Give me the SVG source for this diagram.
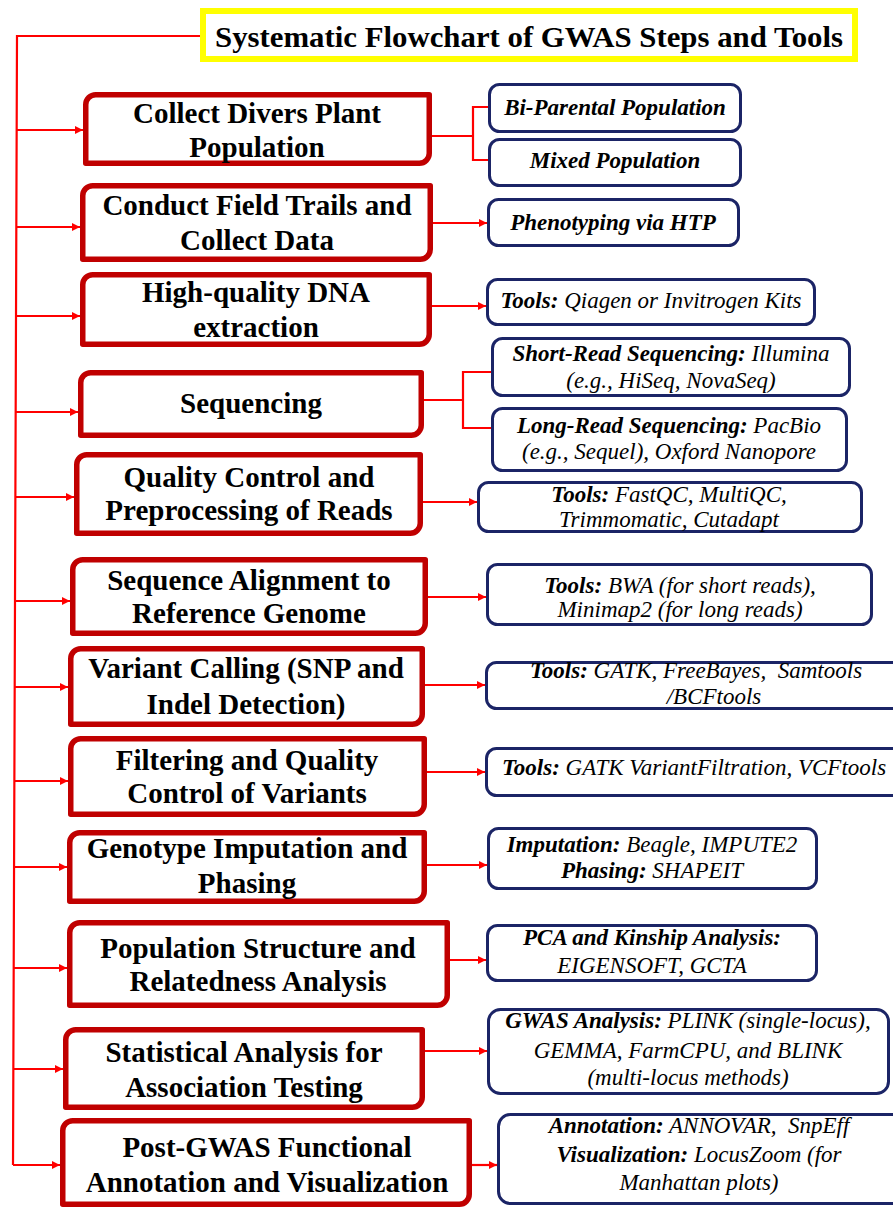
<svg xmlns="http://www.w3.org/2000/svg" width="893" height="1207" viewBox="0 0 893 1207">
<defs>
<style>
.step{fill:#fff;stroke:#C00000;stroke-width:5.5;stroke-linejoin:round}
.tool{fill:#fff;stroke:#1B2466;stroke-width:3}
.st{font-family:"Liberation Serif","Times New Roman",serif;font-weight:bold;font-size:29px;fill:#000;text-anchor:middle}
.tt{font-family:"Liberation Serif","Times New Roman",serif;font-style:italic;font-size:23px;fill:#000;text-anchor:middle}
.b{font-weight:bold}
.con{fill:none;stroke:#FF0000;stroke-width:2.2}
</style>
<marker id="ah" viewBox="0 0 10 10" refX="10" refY="5" markerWidth="8" markerHeight="8" markerUnits="userSpaceOnUse" orient="auto">
<path d="M0,0 L10,5 L0,10 Z" fill="#FF0000"/>
</marker>
</defs>
<rect width="893" height="1207" fill="#fff"/>

<g id="connectors">
<path class="con" d="M203,36 H17 L13,1165"/>
<line class="con" x1="16.7" y1="130" x2="83" y2="130" marker-end="url(#ah)"/>
<line class="con" x1="16.3" y1="227" x2="80" y2="227" marker-end="url(#ah)"/>
<line class="con" x1="16" y1="316" x2="80" y2="316" marker-end="url(#ah)"/>
<line class="con" x1="15.7" y1="412" x2="78" y2="412" marker-end="url(#ah)"/>
<line class="con" x1="15.4" y1="497" x2="74" y2="497" marker-end="url(#ah)"/>
<line class="con" x1="15" y1="601" x2="70" y2="601" marker-end="url(#ah)"/>
<line class="con" x1="14.7" y1="687" x2="68" y2="687" marker-end="url(#ah)"/>
<line class="con" x1="14.4" y1="781" x2="68" y2="781" marker-end="url(#ah)"/>
<line class="con" x1="14.1" y1="867" x2="67" y2="867" marker-end="url(#ah)"/>
<line class="con" x1="13.7" y1="968" x2="67" y2="968" marker-end="url(#ah)"/>
<line class="con" x1="13.3" y1="1069" x2="63" y2="1069" marker-end="url(#ah)"/>
<line class="con" x1="13" y1="1165" x2="60" y2="1165" marker-end="url(#ah)"/>
<path class="con" d="M432,136 H473 M488,107 H473 V160 H488"/>
<line class="con" x1="433" y1="223" x2="487" y2="223" marker-end="url(#ah)"/>
<line class="con" x1="432" y1="306" x2="486" y2="306" marker-end="url(#ah)"/>
<path class="con" d="M424,400 H463 M491,372 H463 V428 H491"/>
<line class="con" x1="423" y1="502" x2="477" y2="502" marker-end="url(#ah)"/>
<line class="con" x1="428" y1="597" x2="486" y2="597" marker-end="url(#ah)"/>
<line class="con" x1="425" y1="685" x2="485" y2="685" marker-end="url(#ah)"/>
<line class="con" x1="427" y1="772" x2="485" y2="772" marker-end="url(#ah)"/>
<line class="con" x1="427" y1="865" x2="487" y2="865" marker-end="url(#ah)"/>
<line class="con" x1="450" y1="960" x2="486" y2="960" marker-end="url(#ah)"/>
<line class="con" x1="425" y1="1051" x2="487" y2="1051" marker-end="url(#ah)"/>
<line class="con" x1="472" y1="1165" x2="497" y2="1165" marker-end="url(#ah)"/>
</g>

<g id="title">
<rect x="203" y="11" width="652" height="48" fill="#fff" stroke="#FFFF00" stroke-width="6"/>
<text x="529" y="47" font-family="Liberation Serif, Times New Roman, serif" font-weight="bold" font-size="30" text-anchor="middle" textLength="628" lengthAdjust="spacingAndGlyphs">Systematic Flowchart of GWAS Steps and Tools</text>
</g>

<g id="step1">
<path class="step" d="M96,94.75 H429.25 V153 A10,10 0 0 1 419.25,163.25 H85.75 V104.75 A10,10 0 0 1 96,94.75 Z"/>
<text class="st" x="257" y="123">Collect Divers Plant</text>
<text class="st" x="257" y="157">Population</text>
</g>
<g id="step2">
<path class="step" d="M93,185.75 H430.25 V249 A10,10 0 0 1 420.25,259.25 H82.75 V195.75 A10,10 0 0 1 93,185.75 Z"/>
<text class="st" x="257" y="215">Conduct Field Trails and</text>
<text class="st" x="257" y="250">Collect Data</text>
</g>
<g id="step3">
<path class="step" d="M93,274.75 H429.25 V334 A10,10 0 0 1 419.25,344.25 H82.75 V284.75 A10,10 0 0 1 93,274.75 Z"/>
<text class="st" x="256" y="302">High-quality DNA</text>
<text class="st" x="256" y="337">extraction</text>
</g>
<g id="step4">
<path class="step" d="M91,372.75 H421.25 V425 A10,10 0 0 1 411.25,435.25 H80.75 V382.75 A10,10 0 0 1 91,372.75 Z"/>
<text class="st" x="251" y="413">Sequencing</text>
</g>
<g id="step5">
<path class="step" d="M87,454.75 H420.25 V523 A10,10 0 0 1 410.25,533.25 H76.75 V464.75 A10,10 0 0 1 87,454.75 Z"/>
<text class="st" x="249" y="487">Quality Control and</text>
<text class="st" x="249" y="520">Preprocessing of Reads</text>
</g>
<g id="step6">
<path class="step" d="M83,559.75 H425.25 V623 A10,10 0 0 1 415.25,633.25 H72.75 V569.75 A10,10 0 0 1 83,559.75 Z"/>
<text class="st" x="249" y="590">Sequence Alignment to</text>
<text class="st" x="249" y="623">Reference Genome</text>
</g>
<g id="step7">
<path class="step" d="M81,648.75 H422.25 V714 A10,10 0 0 1 412.25,724.25 H70.75 V658.75 A10,10 0 0 1 81,648.75 Z"/>
<text class="st" x="246" y="678">Variant Calling (SNP and</text>
<text class="st" x="246" y="714">Indel Detection)</text>
</g>
<g id="step8">
<path class="step" d="M81,738.75 H424.25 V804 A10,10 0 0 1 414.25,814.25 H70.75 V748.75 A10,10 0 0 1 81,738.75 Z"/>
<text class="st" x="247" y="770">Filtering and Quality</text>
<text class="st" x="247" y="803">Control of Variants</text>
</g>
<g id="step9">
<path class="step" d="M80,832.75 H424.25 V891 A10,10 0 0 1 414.25,901.25 H69.75 V842.75 A10,10 0 0 1 80,832.75 Z"/>
<text class="st" x="247" y="858">Genotype Imputation and</text>
<text class="st" x="247" y="893">Phasing</text>
</g>
<g id="step10">
<path class="step" d="M80,922.75 H447.25 V995 A10,10 0 0 1 437.25,1005.25 H69.75 V932.75 A10,10 0 0 1 80,922.75 Z"/>
<text class="st" x="258" y="958">Population Structure and</text>
<text class="st" x="258" y="991">Relatedness Analysis</text>
</g>
<g id="step11">
<path class="step" d="M76,1029.75 H422.25 V1097 A10,10 0 0 1 412.25,1107.25 H65.75 V1039.75 A10,10 0 0 1 76,1029.75 Z"/>
<text class="st" x="244" y="1062">Statistical Analysis for</text>
<text class="st" x="244" y="1097">Association Testing</text>
</g>
<g id="step12">
<path class="step" d="M73,1120.75 H469.25 V1194 A10,10 0 0 1 459.25,1204.25 H62.75 V1130.75 A10,10 0 0 1 73,1120.75 Z"/>
<text class="st" x="267" y="1157">Post-GWAS Functional</text>
<text class="st" x="267" y="1192">Annotation and Visualization</text>
</g>

<g id="tool1">
<rect class="tool" x="489.5" y="84.5" width="251" height="47" rx="10"/>
<text class="tt b" x="615" y="115">Bi-Parental Population</text>
</g>
<g id="tool2">
<rect class="tool" x="489.5" y="139.5" width="251" height="46" rx="10"/>
<text class="tt b" x="615" y="168">Mixed Population</text>
</g>
<g id="tool3">
<rect class="tool" x="488.5" y="199.5" width="250" height="46" rx="10"/>
<text class="tt b" x="613" y="230">Phenotyping via HTP</text>
</g>
<g id="tool4">
<rect class="tool" x="487.5" y="279.5" width="327" height="45" rx="10"/>
<text class="tt" x="651" y="308"><tspan class="b">Tools:</tspan> Qiagen or Invitrogen Kits</text>
</g>
<g id="tool5">
<rect class="tool" x="492.5" y="338.5" width="357" height="57" rx="10"/>
<text class="tt" x="671" y="361"><tspan class="b">Short-Read Sequencing:</tspan> Illumina</text>
<text class="tt" x="671" y="388">(e.g., HiSeq, NovaSeq)</text>
</g>
<g id="tool6">
<rect class="tool" x="492.5" y="408.5" width="354" height="62" rx="10"/>
<text class="tt" x="669" y="433"><tspan class="b">Long-Read Sequencing:</tspan> PacBio</text>
<text class="tt" x="669" y="459">(e.g., Sequel), Oxford Nanopore</text>
</g>
<g id="tool7">
<rect class="tool" x="478.5" y="482.5" width="383" height="49" rx="10"/>
<text class="tt" x="669" y="502"><tspan class="b">Tools:</tspan> FastQC, MultiQC,</text>
<text class="tt" x="669" y="527">Trimmomatic, Cutadapt</text>
</g>
<g id="tool8">
<rect class="tool" x="487.5" y="564.5" width="384" height="60" rx="10"/>
<text class="tt" x="680" y="593"><tspan class="b">Tools:</tspan> BWA (for short reads),</text>
<text class="tt" x="680" y="617">Minimap2 (for long reads)</text>
</g>
<g id="tool9">
<rect class="tool" x="486.5" y="662.5" width="420" height="46" rx="10"/>
<text class="tt" x="696" y="678" xml:space="preserve"><tspan class="b">Tools:</tspan> GATK, FreeBayes,  Samtools</text>
<text class="tt" x="714" y="704">/BCFtools</text>
</g>
<g id="tool10">
<rect class="tool" x="486.5" y="748.5" width="420" height="47" rx="10"/>
<text class="tt" x="694" y="775"><tspan class="b">Tools:</tspan> GATK VariantFiltration, VCFtools</text>
</g>
<g id="tool11">
<rect class="tool" x="488.5" y="828.5" width="328" height="60" rx="10"/>
<text class="tt" x="652" y="852"><tspan class="b">Imputation:</tspan> Beagle, IMPUTE2</text>
<text class="tt" x="652" y="878"><tspan class="b">Phasing:</tspan> SHAPEIT</text>
</g>
<g id="tool12">
<rect class="tool" x="487.5" y="925.5" width="329" height="55" rx="10"/>
<text class="tt b" x="652" y="945">PCA and Kinship Analysis:</text>
<text class="tt" x="652" y="973">EIGENSOFT, GCTA</text>
</g>
<g id="tool13">
<rect class="tool" x="488.5" y="1009.5" width="400" height="84" rx="12"/>
<text class="tt" x="688" y="1028"><tspan class="b">GWAS Analysis:</tspan> PLINK (single-locus),</text>
<text class="tt" x="688" y="1058">GEMMA, FarmCPU, and BLINK</text>
<text class="tt" x="688" y="1085">(multi-locus methods)</text>
</g>
<g id="tool14">
<rect class="tool" x="498.5" y="1114.5" width="410" height="89" rx="12"/>
<text class="tt" x="699" y="1133" xml:space="preserve"><tspan class="b">Annotation:</tspan> ANNOVAR,  SnpEff</text>
<text class="tt" x="699" y="1162"><tspan class="b">Visualization:</tspan> LocusZoom (for</text>
<text class="tt" x="699" y="1190">Manhattan plots)</text>
</g>
</svg>
